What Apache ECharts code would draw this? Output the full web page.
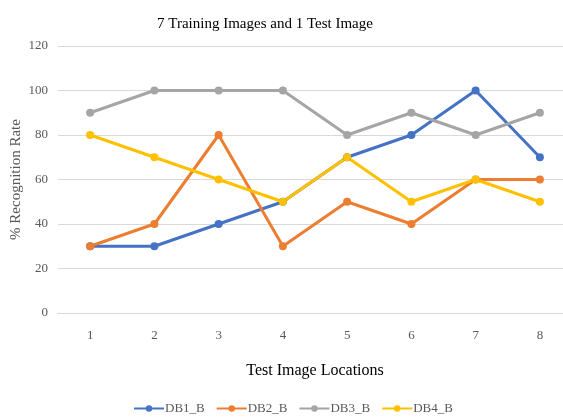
<!DOCTYPE html>
<html><head><meta charset="utf-8">
<script src="https://cdn.jsdelivr.net/npm/echarts@6/dist/echarts.min.js"></script>
<style>html,body{margin:0;padding:0;background:#fff}#c{width:563px;height:419px}</style>
</head><body><div id="c"></div>
<script>
const categories = ['1','2','3','4','5','6','7','8'];
const db1 = [30, 30, 40, 50, 70, 80, 100, 70];
const db2 = [30, 40, 80, 30, 50, 40, 60, 60];
const db3 = [90, 100, 100, 100, 80, 90, 80, 90];
const db4 = [80, 70, 60, 50, 70, 50, 60, 50];
const seriesNames = ['DB1_B','DB2_B','DB3_B','DB4_B'];
const colors = ['#4472C4','#ED7D31','#A5A5A5','#FFC000'];
const FONT = '"Liberation Serif", "Times New Roman", serif';
const chart = echarts.init(document.getElementById('c'));
const mk = (name, data, color) => ({
  name, type: 'line', data, symbol: 'circle', symbolSize: 8,
  lineStyle: {width: 3, color}, itemStyle: {color}
});
chart.setOption({
  animation: false,
  title: {text: '7 Training Images and 1 Test Image', left: 260, top: 12, textAlign: 'center',
    textStyle: {fontFamily: FONT, fontSize: 15, fontWeight: 'normal', color: '#000'}},
  grid: {left: 58, top: 46, width: 514, bottom: 106, outerBoundsMode: 'none', containLabel: false},
  legend: {bottom: -1, left: 128, itemWidth: 30, itemHeight: 8, itemGap: 11,
    textStyle: {fontFamily: FONT, fontSize: 13, color: '#595959', padding: [0,0,0,-4]}, data: seriesNames},
  xAxis: {type: 'category', data: categories, boundaryGap: true,
    name: 'Test Image Locations', nameLocation: 'middle', nameGap: 50, nameMoveOverlap: false,
    nameTextStyle: {fontFamily: FONT, fontSize: 16, color: '#000'},
    axisLine: {lineStyle: {color: '#D9D9D9', width: 1}}, axisTick: {show: false},
    axisLabel: {fontFamily: FONT, fontSize: 13, color: '#595959', margin: 16}},
  yAxis: {type: 'value', min: 0, max: 120, interval: 20,
    name: '% Recognition Rate', nameLocation: 'middle', nameGap: 34, nameMoveOverlap: false,
    nameTextStyle: {fontFamily: FONT, fontSize: 15, color: '#595959'},
    axisLine: {show: false}, axisTick: {show: false},
    axisLabel: {fontFamily: FONT, fontSize: 13, color: '#595959', margin: 10},
    splitLine: {lineStyle: {color: '#D9D9D9', width: 1}}},
  series: [mk(seriesNames[0], db1, colors[0]), mk(seriesNames[1], db2, colors[1]),
           mk(seriesNames[2], db3, colors[2]), mk(seriesNames[3], db4, colors[3])]
});
</script></body></html>
